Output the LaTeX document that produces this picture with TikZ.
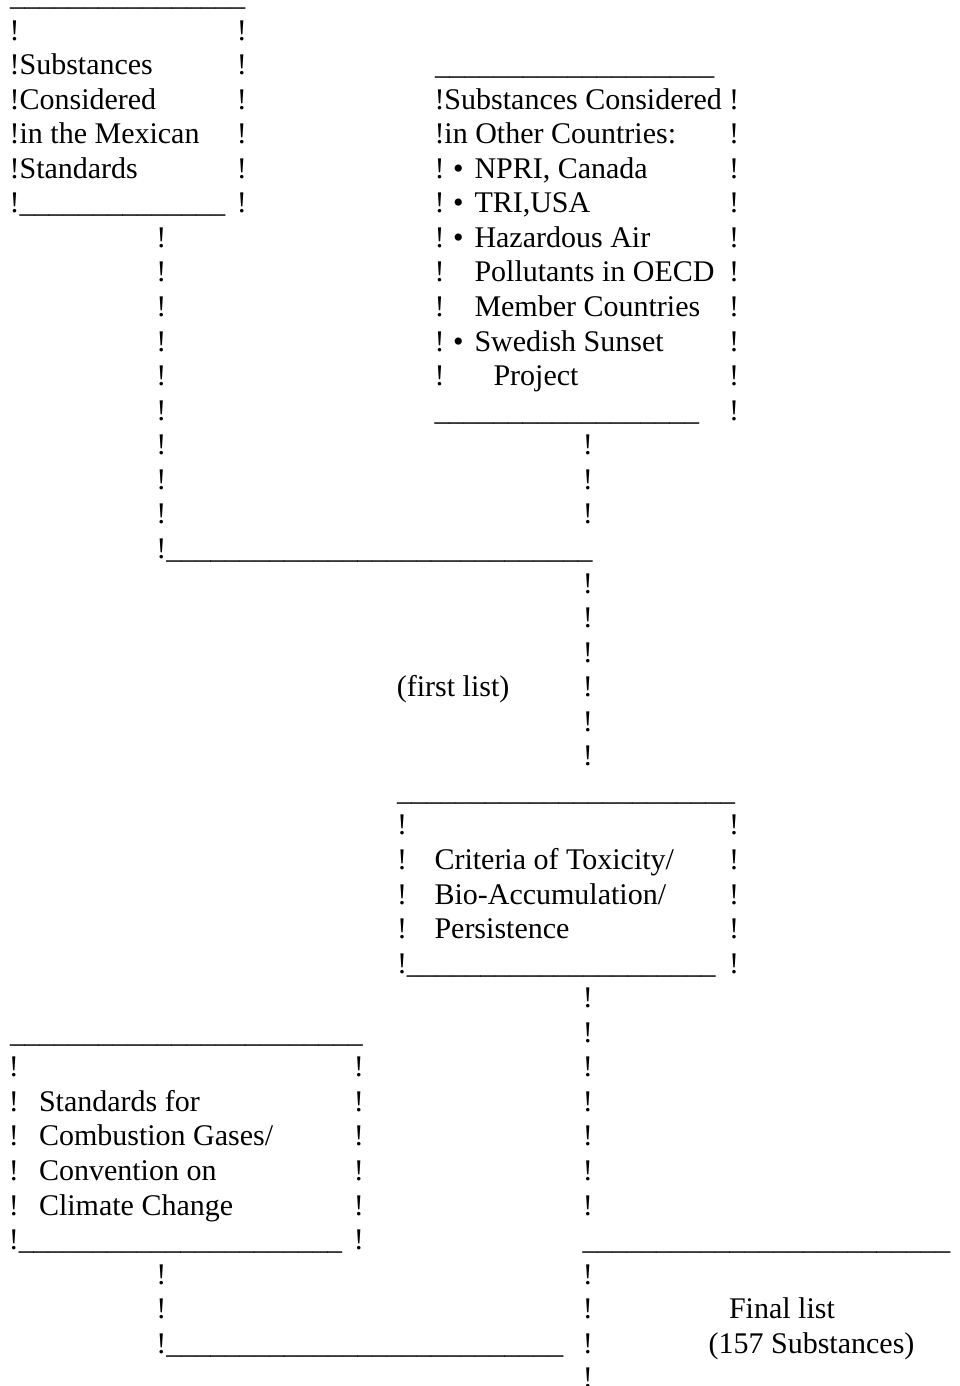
\documentclass[tikz,border=0pt]{standalone}
\usepackage{fontspec}
\setmainfont{Liberation Serif}
\newcommand{\bars}[1]{{\fontsize{29.4pt}{34.6pt}\selectfont\foreach \k in {1,...,#1}{\_}}}
\tikzset{
  txt/.style={anchor=base west, inner sep=0pt, outer sep=0pt,
    font=\fontsize{30pt}{34.6pt}\selectfont},
}
\begin{document}
\begin{tikzpicture}[x=1pt, y=-34.56pt]
\useasboundingbox (0,0) rectangle (960,40.1042);
\begin{scope}[yshift=-5.5pt]
% mexican standards
\node[txt] (mexTop) at (10,0) {\bars{16}};
\node[txt] (mexL1) at (9.6,1) {!};
\node[txt] (mexT2) at (9.6,2) {!Substances};
\node[txt] (mexT3) at (9.6,3) {!Considered};
\node[txt] (mexT4) at (9.6,4) {!in the Mexican};
\node[txt] (mexT5) at (9.6,5) {!Standards};
\node[txt] (mexBot) at (9.6,6) {!\bars{14}};
\foreach \r in {1,...,6}
  \node[txt] (mexR\r) at (236.8,\r) {!};
% other countries
\node[txt] (othTop) at (435,2) {\bars{19}};
\node[txt] (othT3) at (434.5,3) {!Substances Considered};
\node[txt] (othT4) at (434.5,4) {!in Other Countries:};
\foreach \r in {5,...,11}
  \node[txt] (othL\r) at (434.5,\r) {!};
\foreach \r/\t in {5/{NPRI, Canada},6/{TRI,USA},7/{Hazardous Air},10/{Swedish Sunset}}{
  \node[txt] (othB\r) at (453.2,\r) {•};
  \node[txt] (othI\r) at (474.5,\r) {\t};
}
\node[txt] (othI8) at (474.5,8) {Pollutants in OECD};
\node[txt] (othI9) at (474.5,9) {Member Countries};
\node[txt] (othI11) at (493.5,11) {Project};
\node[txt] (othBot) at (434.5,12) {\bars{18}};
\foreach \r in {3,...,12}
  \node[txt] (othR\r) at (729,\r) {!};
% left branch
\foreach \r in {7,...,15}
  \node[txt] (mexV\r) at (156.4,\r) {!};
\node[txt] (joinA) at (156.4,16) {!\bars{29}};
% main line
\foreach \r in {13,14,15,17,18,19,20,21,22,29,30,31,32,33,34,35,37,38,39,40}
  \node[txt] (mainV\r) at (582.8,\r) {!};
\node[txt] (first) at (396.9,20) {(first list)};
% criteria
\node[txt] (critTop) at (397,23) {\bars{23}};
\foreach \r in {24,...,27}
  \node[txt] (critL\r) at (397,\r) {!};
\foreach \r in {24,...,28}
  \node[txt] (critR\r) at (729,\r) {!};
\node[txt] (critT25) at (434.5,25) {Criteria of Toxicity/};
\node[txt] (critT26) at (434.5,26) {Bio-Accumulation/};
\node[txt] (critT27) at (434.5,27) {Persistence};
\node[txt] (critBot) at (397,28) {!\bars{21}};
% combustion gases
\node[txt] (gasTop) at (10,30) {\bars{24}};
\foreach \r in {31,...,35}
  \node[txt] (gasL\r) at (8.8,\r) {!};
\foreach \r in {31,...,36}
  \node[txt] (gasR\r) at (353.8,\r) {!};
\node[txt] (gasT32) at (39,32) {Standards for};
\node[txt] (gasT33) at (39,33) {Combustion Gases/};
\node[txt] (gasT34) at (39,34) {Convention on};
\node[txt] (gasT35) at (39,35) {Climate Change};
\node[txt] (gasBot) at (8.8,36) {!\bars{22}};
\foreach \r in {37,38}
  \node[txt] (gasV\r) at (156.4,\r) {!};
\node[txt] (joinB) at (156.4,39) {!\bars{27}};
% final list
\node[txt] (finTop) at (582.7,36) {\bars{25}};
\node[txt] (finT38) at (729,38) {Final list};
\node[txt] (finT39) at (708.6,39) {(157 Substances)};
\end{scope}
\end{tikzpicture}
\end{document}
